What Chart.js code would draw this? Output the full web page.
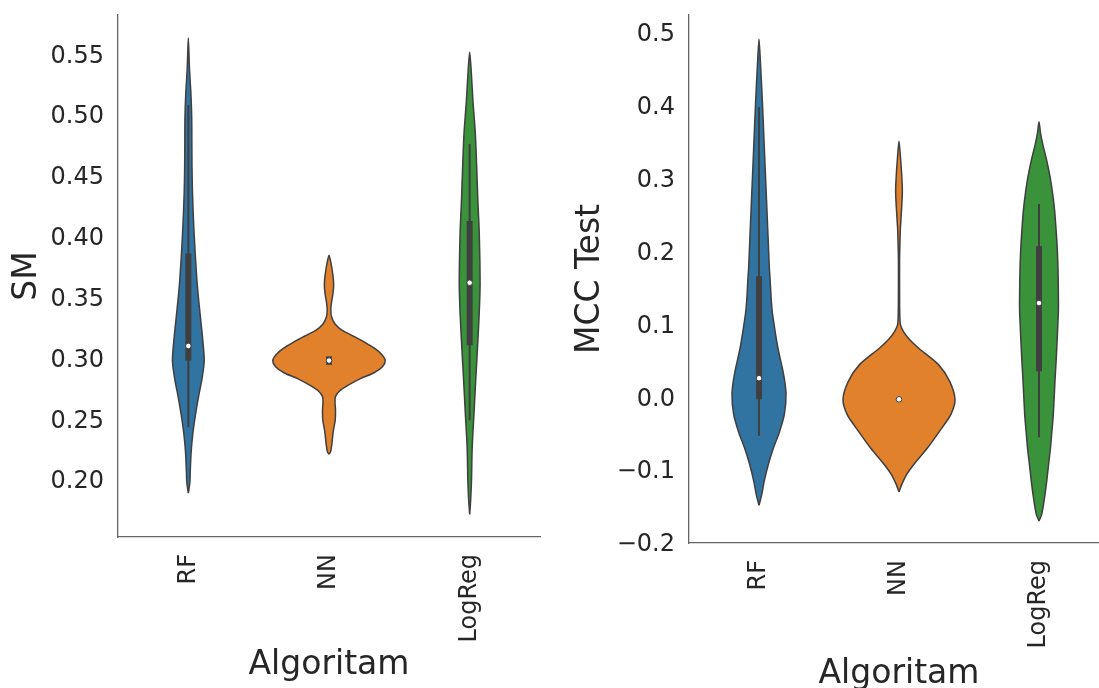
<!DOCTYPE html>
<html>
<head>
<meta charset="utf-8">
<title>Violin plots</title>
<script src="https://cdn.jsdelivr.net/npm/chart.js@4/dist/chart.umd.min.js"></script>
<style>
  html, body { margin: 0; padding: 0; background: #fff; overflow: hidden; width: 1099px; height: 688px; }
  #left { position: absolute; left: 0; top: 0; }
  #right { position: absolute; left: 560px; top: 0; }
</style>
</head>
<body>
<canvas id="left" width="560" height="688"></canvas>
<canvas id="right" width="560" height="700"></canvas>
<script>
const categories = ['RF', 'NN', 'LogReg'];

// violin outlines: [value, half width in category units]
const smTicks = [0.20, 0.25, 0.30, 0.35, 0.40, 0.45, 0.50, 0.55];
const smRF = [[0.191, 0], [0.20, 0.011], [0.21, 0.014], [0.225, 0.020], [0.24, 0.032], [0.255, 0.050], [0.27, 0.072], [0.285, 0.097], [0.30, 0.113], [0.32, 0.100], [0.34, 0.082], [0.36, 0.065], [0.38, 0.053], [0.40, 0.043], [0.42, 0.035], [0.44, 0.029], [0.46, 0.026], [0.48, 0.025], [0.50, 0.024], [0.52, 0.018], [0.54, 0.008], [0.565, 0]];
const smNN = [[0.223, 0], [0.225, 0.011], [0.232, 0.021], [0.24, 0.028], [0.245, 0.035], [0.25, 0.043], [0.255, 0.046], [0.26, 0.046], [0.265, 0.043], [0.27, 0.045], [0.275, 0.075], [0.28, 0.14], [0.285, 0.22], [0.29, 0.32], [0.295, 0.38], [0.30, 0.40], [0.305, 0.375], [0.31, 0.325], [0.315, 0.255], [0.32, 0.175], [0.325, 0.092], [0.33, 0.043], [0.336, 0.018], [0.342, 0.013], [0.348, 0.018], [0.355, 0.028], [0.362, 0.033], [0.37, 0.028], [0.38, 0.014], [0.3865, 0]];
const smLogReg = [[0.1735, 0], [0.185, 0.007], [0.2016, 0.013], [0.229, 0.018], [0.257, 0.031], [0.284, 0.043], [0.311, 0.056], [0.339, 0.068], [0.363, 0.074], [0.405, 0.068], [0.432, 0.058], [0.459, 0.050], [0.487, 0.040], [0.514, 0.023], [0.54, 0.010], [0.5536, 0]];
const smQ1 = [0.300, 0.2965, 0.3126];
const smQ3 = [0.388, 0.3035, 0.4147];
const smMedian = [0.312, 0.300, 0.364];
const smWhiskerLow = [0.245, 0.300, 0.251];
const smWhiskerHigh = [0.51, 0.300, 0.478];

const mccTicks = [-0.2, -0.1, 0.0, 0.1, 0.2, 0.3, 0.4, 0.5];
const mccRF = [[-0.1455, 0], [-0.131, 0.019], [-0.1125, 0.037], [-0.0897, 0.066], [-0.0668, 0.103], [-0.044, 0.147], [-0.0206, 0.181], [0.0068, 0.193], [0.034, 0.176], [0.0704, 0.135], [0.1166, 0.097], [0.1345, 0.088], [0.162, 0.080], [0.18, 0.074], [0.226, 0.064], [0.272, 0.054], [0.317, 0.044], [0.363, 0.034], [0.409, 0.024], [0.455, 0.012], [0.4937, 0]];
const mccNN = [[-0.127, 0], [-0.117, 0.019], [-0.103, 0.055], [-0.0897, 0.104], [-0.0668, 0.203], [-0.0439, 0.289], [-0.021, 0.370], [0.0, 0.40], [0.0247, 0.362], [0.0476, 0.282], [0.070, 0.141], [0.082, 0.075], [0.0933, 0.031], [0.1025, 0.010], [0.12, 0.005], [0.15, 0.004], [0.19, 0.004], [0.217, 0.007], [0.235, 0.010], [0.2626, 0.019], [0.2855, 0.024], [0.309, 0.019], [0.331, 0.011], [0.354, 0]];
const mccLogReg = [[-0.167, 0], [-0.158, 0.019], [-0.1355, 0.039], [-0.1125, 0.055], [-0.09, 0.068], [-0.0668, 0.082], [-0.044, 0.092], [-0.021, 0.102], [0.0247, 0.114], [0.052, 0.122], [0.0704, 0.127], [0.10, 0.134], [0.125, 0.139], [0.166, 0.137], [0.189, 0.134], [0.212, 0.129], [0.235, 0.121], [0.258, 0.112], [0.281, 0.098], [0.304, 0.080], [0.3267, 0.056], [0.3496, 0.027], [0.365, 0.011], [0.3806, 0]];
const mccQ1 = [0.0, 0.0, 0.0384];
const mccQ3 = [0.1688, 0.0, 0.21];
const mccMedian = [0.029, 0.0, 0.132];
const mccWhiskerLow = [-0.05, 0.0, -0.052];
const mccWhiskerHigh = [0.401, 0.0, 0.268];

const palette = ['#3274a1', '#e1812c', '#3a923a'];
const lineGray = '#3f3f3f';
const textColor = '#262626';
const spineColor = '#666666';

// bottom tip -> right side up -> top tip -> left side down
function outline(profile, center) {
	const right = profile.map(p => ({ x: center + p[1], y: p[0] }));
	const left = profile.slice().reverse().map(p => ({ x: center - p[1], y: p[0] }));
	return right.concat(left.slice(1));
}

function buildDatasets(profiles, q1, q3, med, lo, hi) {
	const sets = [];
	profiles.forEach((profile, i) => {
		sets.push({
			data: outline(profile, i), showLine: true, fill: 'shape',
			backgroundColor: palette[i], borderColor: lineGray, borderWidth: 1.5,
			pointRadius: 0, tension: 0.25, order: 3
		});
		sets.push({
			data: [{ x: i, y: lo[i] }, { x: i, y: hi[i] }], showLine: true,
			borderColor: lineGray, borderWidth: 2, pointRadius: 0, order: 2
		});
		sets.push({
			data: [{ x: i, y: q1[i] }, { x: i, y: q3[i] }], showLine: true,
			borderColor: lineGray, borderWidth: 6, borderCapStyle: 'butt', pointRadius: 0, order: 1
		});
		sets.push({
			data: [{ x: i, y: med[i] }], showLine: false,
			pointRadius: 2.8, pointBackgroundColor: '#ffffff', pointBorderColor: lineGray, pointBorderWidth: 1, order: 0
		});
	});
	return sets;
}

function makeChart(id, cfg) {
	return new Chart(document.getElementById(id), {
		type: 'scatter',
		data: { datasets: cfg.datasets },
		options: {
			responsive: false,
			animation: false,
			events: [],
			layout: { padding: cfg.padding },
			plugins: { legend: { display: false }, tooltip: { enabled: false } },
			scales: {
				x: {
					type: 'linear', min: -0.5, max: 2.5,
					afterBuildTicks: s => { s.ticks = categories.map((c, i) => ({ value: i })); },
					afterFit: s => { s.height = cfg.xHeight; s.paddingLeft = 0; s.paddingRight = 0; },
					ticks: {
						callback: v => categories[v], autoSkip: false,
						minRotation: 90, maxRotation: 90, padding: 17,
						color: textColor, font: { family: 'DejaVu Sans', size: 24 }
					},
					grid: { display: false, drawTicks: false },
					border: { display: true, color: spineColor, width: 1.3 },
					title: {
						display: true, text: 'Algoritam', color: textColor,
						font: { family: 'DejaVu Sans', size: 33 }, padding: { top: 0, bottom: cfg.xTitlePad }
					}
				},
				y: {
					type: 'linear', min: cfg.yMin, max: cfg.yMax,
					afterBuildTicks: s => { s.ticks = cfg.ticks.map(v => ({ value: v })); },
					afterFit: s => { s.width = cfg.yWidth; s.paddingTop = 0; s.paddingBottom = 0; },
					ticks: {
						callback: cfg.format, padding: 14,
						color: textColor, font: { family: 'DejaVu Sans', size: 24 }
					},
					grid: { display: false, drawTicks: false },
					border: { display: true, color: spineColor, width: 1.3 },
					title: {
						display: true, text: cfg.yTitle, color: textColor,
						font: { family: 'DejaVu Sans', size: 33 }, padding: { top: cfg.yTitlePad, bottom: 0 }
					}
				}
			}
		}
	});
}

makeChart('left', {
	datasets: buildDatasets([smRF, smNN, smLogReg], smQ1, smQ3, smMedian, smWhiskerLow, smWhiskerHigh),
	padding: { top: 15, right: 20, bottom: 0, left: 0 },
	xHeight: 151, yWidth: 118, xTitlePad: 3, yTitlePad: 8,
	yMin: 0.155, yMax: 0.584, ticks: smTicks,
	format: v => v.toFixed(2), yTitle: 'SM'
});

makeChart('right', {
	datasets: buildDatasets([mccRF, mccNN, mccLogReg], mccQ1, mccQ3, mccMedian, mccWhiskerLow, mccWhiskerHigh),
	padding: { top: 15, right: 11, bottom: 0, left: 0 },
	xHeight: 157, yWidth: 129, xTitlePad: 6, yTitlePad: 11,
	yMin: -0.197, yMax: 0.527, ticks: mccTicks,
	format: v => v.toFixed(1).replace('-', '\u2212'), yTitle: 'MCC Test'
});
</script>
</body>
</html>
